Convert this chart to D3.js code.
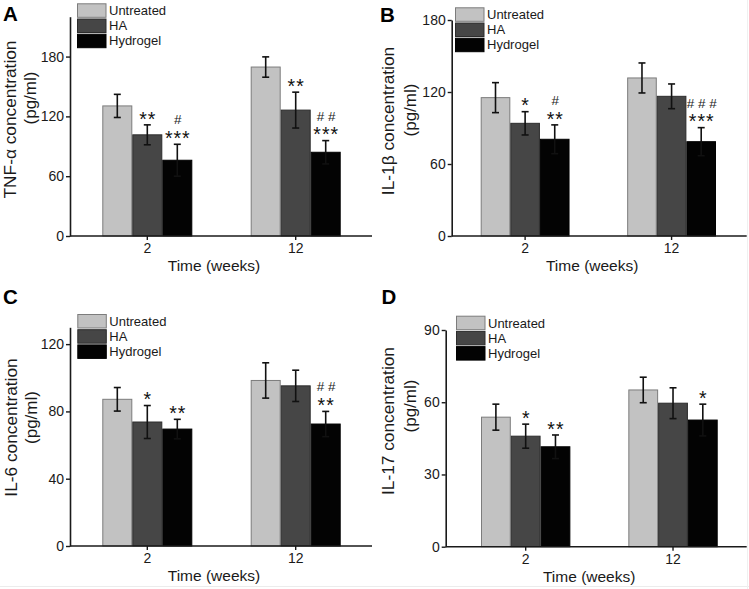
<!DOCTYPE html>
<html>
<head>
<meta charset="utf-8">
<script src="https://cdn.jsdelivr.net/npm/d3@7"></script>
<style>
  html, body { margin: 0; padding: 0; background: #fff; }
  svg { display: block; font-family: "Liberation Sans", Arial, sans-serif; }
</style>
</head>
<body>
<svg id="chart" width="749" height="589"></svg>
<script>
// ---------- data ----------
const groups = ["2", "12"];
const series = ["Untreated", "HA", "Hydrogel"];

// values indexed [series][group]
const tnfMean  = [[130.5, 169.5], [101.5, 126.3], [76, 84]];
const tnfErr   = [[11.6, 10.2], [10, 18], [16, 11.7]];
const tnfStars = [["", ""], ["**", "**"], ["***", "***"]];
const tnfHash  = [["", ""], ["", ""], ["#", "# #"]];
const tnfTicks = [0, 60, 120, 180];

const il1bMean  = [[115.3, 131.7], [93.9, 116.4], [80.6, 78.6]];
const il1bErr   = [[12.5, 12.5], [9.7, 10.3], [12, 11.7]];
const il1bStars = [["", ""], ["*", ""], ["**", "***"]];
const il1bHash  = [["", ""], ["", ""], ["#", "# # #"]];
const il1bTicks = [0, 60, 120, 180];

const il6Mean  = [[87.2, 98.4], [73.7, 95.2], [69.5, 72.5]];
const il6Err   = [[7, 10.5], [9.8, 9.3], [5.8, 7.5]];
const il6Stars = [["", ""], ["*", ""], ["**", "**"]];
const il6Hash  = [["", ""], ["", ""], ["", "# #"]];
const il6Ticks = [0, 40, 80, 120];

const il17Mean  = [[53.8, 65.1], [45.9, 59.6], [41.5, 52.6]];
const il17Err   = [[5.4, 5.3], [5, 6.4], [4.9, 6.6]];
const il17Stars = [["", ""], ["*", ""], ["**", "*"]];
const il17Hash  = [["", ""], ["", ""], ["", ""]];
const il17Ticks = [0, 30, 60, 90];

const yTitles = ["TNF-α concentration", "IL-1β concentration", "IL-6 concentration", "IL-17 concentration"];
const yUnit = "(pg/ml)";
const xTitle = "Time (weeks)";
const letters = ["A", "B", "C", "D"];

// ---------- layout / style ----------
const fills   = ["#c2c2c2", "#464646", "#030303"];
const strokes = ["#7c7c7c", "#2c2c2c", "#000000"];
const ink = "#1a1a1a";

const panels = [
  { mean: tnfMean, err: tnfErr, stars: tnfStars, hash: tnfHash, ticks: tnfTicks, yMax: 220,
    x0: 70, x1: 372, yBase: 236, yTop: 16.7, band: [102.3, 340.7],
    letter: [3, 20.5], t1: [16, 119.5], t2: [36, 98], legend: [77, 3.3] },
  { mean: il1bMean, err: il1bErr, stars: il1bStars, hash: il1bHash, ticks: il1bTicks, yMax: 180,
    x0: 451.7, x1: 746.7, yBase: 236, yTop: 20, band: [480.7, 716],
    letter: [380, 22], t1: [394, 121], t2: [415.5, 110], legend: [455, 7.3] },
  { mean: il6Mean, err: il6Err, stars: il6Stars, hash: il6Hash, ticks: il6Ticks, yMax: 130,
    x0: 70, x1: 372, yBase: 546, yTop: 327.3, band: [102.3, 340.7],
    letter: [3, 304], t1: [17, 427.5], t2: [37, 417.5], legend: [77.3, 314] },
  { mean: il17Mean, err: il17Err, stars: il17Stars, hash: il17Hash, ticks: il17Ticks, yMax: 90,
    x0: 445.7, x1: 746.7, yBase: 546.7, yTop: 330, band: [481, 717.7],
    letter: [381.5, 304], t1: [394, 421], t2: [416, 406], legend: [456, 315.7] }
];

const svg = d3.select("#chart");
svg.append("rect").attr("width", 749).attr("height", 589).attr("fill", "#fff");

const STAR_FS = 19.5, HASH_FS = 13.5;

panels.forEach((p, pi) => {
  const g = svg.append("g");
  const y = d3.scaleLinear().domain([0, p.yMax]).range([p.yBase, p.yTop]);
  const xb = d3.scaleBand().domain(groups).range(p.band).paddingInner(0.3935).paddingOuter(0);
  const xs = d3.scaleBand().domain(series).range([0, xb.bandwidth()]);

  // bars
  series.forEach((s, si) => {
    groups.forEach((gr, gi) => {
      const v = p.mean[si][gi];
      const bx = xb(gr) + xs(s);
      g.append("rect")
        .attr("x", bx + 0.5).attr("y", y(v))
        .attr("width", xs.bandwidth() - 1).attr("height", y(0) - y(v))
        .attr("fill", fills[si]).attr("stroke", strokes[si]).attr("stroke-width", 1);
    });
  });

  // error bars + significance marks
  series.forEach((s, si) => {
    groups.forEach((gr, gi) => {
      const v = p.mean[si][gi], e = p.err[si][gi];
      const cx = xb(gr) + xs(s) + xs.bandwidth() / 2;
      const col = "#111";
      g.append("line").attr("x1", cx).attr("x2", cx).attr("y1", y(v + e)).attr("y2", y(v - e))
        .attr("stroke", col).attr("stroke-width", 1.6);
      [v + e, v - e].forEach(val => {
        g.append("line").attr("x1", cx - 3.5).attr("x2", cx + 3.5).attr("y1", y(val)).attr("y2", y(val))
          .attr("stroke", col).attr("stroke-width", 1.6);
      });
      const top = y(v + e);
      const st = p.stars[si][gi];
      const hs = p.hash[si][gi];
      const starCenter = top - 10.5;
      if (st) {
        g.append("text").attr("x", cx + 0.5).attr("y", starCenter + 0.575 * STAR_FS)
          .attr("text-anchor", "middle").attr("font-size", STAR_FS).attr("letter-spacing", 1)
          .attr("fill", "#111").text(st);
      }
      if (hs) {
        const hc = starCenter - 14.3;
        g.append("text").attr("x", cx + 0.5).attr("y", hc + 0.36 * HASH_FS)
          .attr("text-anchor", "middle").attr("font-size", HASH_FS)
          .attr("fill", "#222").text(hs);
      }
    });
  });

  // y axis
  const ya = g.append("g").attr("transform", `translate(${p.x0},0)`)
    .call(d3.axisLeft(y).tickValues(p.ticks).tickSize(4).tickSizeOuter(0).tickPadding(2).tickFormat(d3.format("d")));
  ya.select(".domain").attr("stroke", ink).attr("stroke-width", 1.6);
  ya.selectAll(".tick line").attr("stroke", ink).attr("stroke-width", 1.4);
  ya.selectAll(".tick text").attr("font-size", 14).attr("fill", ink)
    .attr("font-family", "'Liberation Sans', Arial, sans-serif");

  // x axis
  const xa = g.append("g").attr("transform", `translate(0,${p.yBase})`)
    .call(d3.axisBottom(xb).tickSize(4).tickSizeOuter(0).tickPadding(3));
  xa.select(".domain").remove();
  xa.append("line").attr("x1", p.x0).attr("x2", p.x1).attr("y1", 0).attr("y2", 0)
    .attr("stroke", ink).attr("stroke-width", 1.6);
  xa.selectAll(".tick line").attr("stroke", ink).attr("stroke-width", 1.4);
  xa.selectAll(".tick text").attr("font-size", 14).attr("fill", ink)
    .attr("font-family", "'Liberation Sans', Arial, sans-serif");

  // x title
  g.append("text").attr("x", (p.x0 + p.x1) / 2 - 7).attr("y", p.yBase + 35)
    .attr("text-anchor", "middle").attr("font-size", 15.5).attr("fill", ink).text(xTitle);

  // y titles
  g.append("text").attr("transform", `translate(${p.t1[0]},${p.t1[1]}) rotate(-90)`)
    .attr("text-anchor", "middle").attr("font-size", 17.3).attr("fill", ink).text(yTitles[pi]);
  g.append("text").attr("transform", `translate(${p.t2[0]},${p.t2[1]}) rotate(-90)`)
    .attr("text-anchor", "middle").attr("font-size", 17).attr("fill", ink).text(yUnit);

  // panel letter
  g.append("text").attr("x", p.letter[0]).attr("y", p.letter[1])
    .attr("font-size", 20.5).attr("font-weight", "bold").attr("fill", "#000").text(letters[pi]);

  // legend
  const lg = g.append("g").attr("transform", `translate(${p.legend[0]},${p.legend[1]})`);
  series.forEach((s, si) => {
    lg.append("rect").attr("x", 0.5).attr("y", si * 15.2 + 0.5).attr("width", 28.5).attr("height", 13.5)
      .attr("fill", fills[si]).attr("stroke", strokes[si]).attr("stroke-width", 1);
    lg.append("text").attr("x", 32).attr("y", si * 15.2 + 11.8)
      .attr("font-size", 13).attr("fill", ink).text(s);
  });
});

// faint outer frame seen at the bottom / right of the reference
svg.append("line").attr("x1", 0).attr("x2", 749).attr("y1", 586.5).attr("y2", 586.5).attr("stroke", "#ececec");
svg.append("line").attr("x1", 747.5).attr("x2", 747.5).attr("y1", 0).attr("y2", 589).attr("stroke", "#f0f0f0");
</script>
</body>
</html>
